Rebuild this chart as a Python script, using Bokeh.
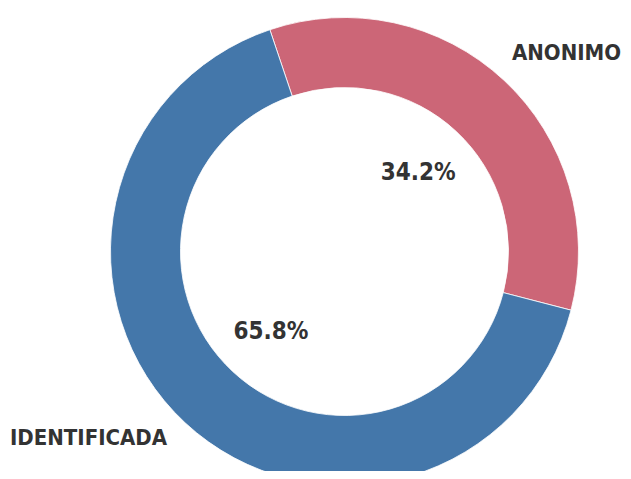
import math
from bokeh.plotting import figure
from bokeh.models import Range1d, ColumnDataSource
from bokeh.core.properties import value
from bokeh.embed import file_html
from bokeh.resources import INLINE

# ---- data ----
categories = ["ANONIMO", "IDENTIFICADA"]
percents = [34.2, 65.8]
colors = ["#CC6677", "#4477AA"]

# ---- layout ----
W, H = 623, 471
cx, cy = 344, 220          # donut centre (data units == pixels)
r_out, r_in = 234, 164
start_deg = 108.6          # first slice starts here and runs clockwise
label_font = "DejaVu Sans Condensed"

total = sum(percents)
ends, starts, mids = [], [], []
a = math.radians(start_deg)
for v in percents:
    span = 2 * math.pi * v / total
    starts.append(a - span)
    ends.append(a)
    mids.append(a - span / 2)
    a -= span

src = ColumnDataSource(dict(cat=categories, start=starts, end=ends, color=colors))

p = figure(width=W, height=H, output_backend="svg", toolbar_location=None,
           x_range=Range1d(0, W), y_range=Range1d(0, H), min_border=0)
p.axis.visible = False
p.grid.visible = False
p.outline_line_color = None
p.background_fill_color = "white"

p.annular_wedge(x=cx, y=cy, inner_radius=r_in, outer_radius=r_out,
                start_angle="start", end_angle="end", color="color",
                line_color="white", line_width=0.8, source=src)

# percentage labels inside the ring
r_pct = 108
pct_x = [cx + r_pct * math.cos(m) for m in mids]
pct_y = [cy + r_pct * math.sin(m) for m in mids]
pct_txt = [f"{v:.1f}%" for v in percents]
p.text(x=pct_x, y=pct_y, text=pct_txt, text_align="center", text_baseline="middle",
       text_font=value(label_font), text_font_style="bold", text_font_size="24px",
       text_color="#333333")

# category labels outside
lab_off = [(222, 199), (-256, -186)]
lab_x = [cx + dx for dx, dy in lab_off]
lab_y = [cy + dy for dx, dy in lab_off]
p.text(x=lab_x, y=lab_y, text=categories, text_align="center", text_baseline="middle",
       text_font=value(label_font), text_font_style="bold", text_font_size="22px",
       text_color="#333333")

open("out.html", "w").write(file_html(p, INLINE))
